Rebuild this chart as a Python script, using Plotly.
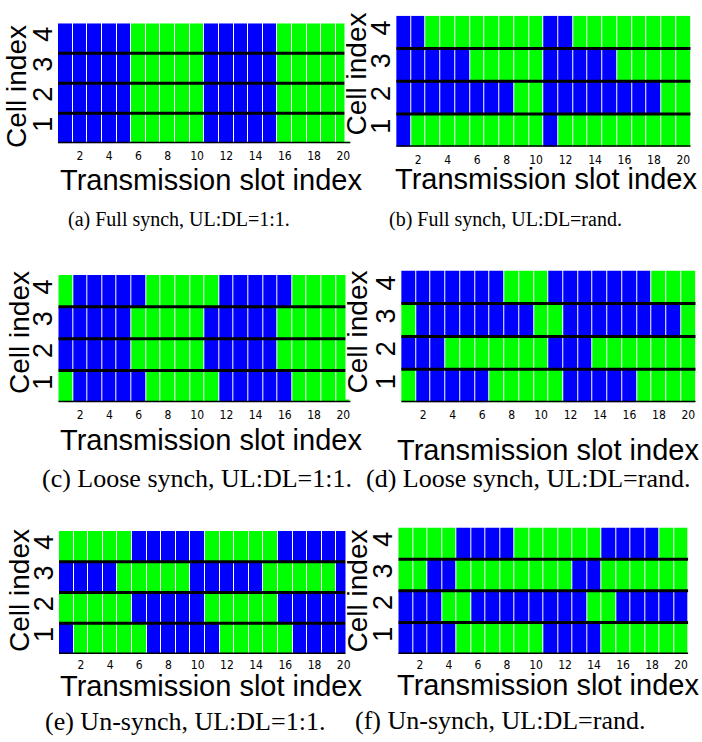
import plotly.graph_objects as go

W, H = 702, 742

# ---------------- data (B = blue, G = green); rows listed for cell 1..4 ----------------
slots = list(range(1, 21))
cells = [1, 2, 3, 4]
x_tick_vals = [2, 4, 6, 8, 10, 12, 14, 16, 18, 20]
x_tick_text = ["2", "4", "6", "8", "10", "12", "14", "16", "18", "20"]

full_11 = [
    "BBBBBGGGGGBBBBBGGGGG",
    "BBBBBGGGGGBBBBBGGGGG",
    "BBBBBGGGGGBBBBBGGGGG",
    "BBBBBGGGGGBBBBBGGGGG",
]
full_rand = [
    "BGGGGGGGGGBGGGGGGGGG",
    "BBBBBBBBGGBBBBBBBBGG",
    "BBBBBGGGGGBBBBBGGGGG",
    "BBGGGGGGGGBBGGGGGGGG",
]
loose_11 = [
    "GBBBBBGGGGGBBBBBGGGG",
    "BBBBBGGGGGBBBBBGGGGG",
    "BBBBBGGGGGBBBBBGGGGG",
    "GBBBBBGGGGGBBBBBGGGG",
]
loose_rand = [
    "GBBBBBGGGGGBBBBBGGGG",
    "BBBGGGGGGGBBBGGGGGGG",
    "GBBBBBBBBGGBBBBBBBBG",
    "BBBBBBBGGGBBBBBBBGGG",
]
unsync_11 = [
    "BGGGGGBBBBBGGGGGBBBB",
    "GGGGGBBBBBGGGGGBBBBB",
    "BBBBGGGGGBBBBBGGGGGB",
    "GGGGGBBBBBGGGGGBBBBB",
]
unsync_rand = [
    "BBBBGGGGGGBBBBGGGGGG",
    "BBBGGBBBBBBBBGGBBBBB",
    "GGBBGGGGGGGGBBGGGGGG",
    "GGGGBBBBGGGGGGBBBBGG",
]

captions = [
    "(a) Full synch, UL:DL=1:1.",
    "(b) Full synch, UL:DL=rand.",
    "(c) Loose synch, UL:DL=1:1.",
    "(d) Loose synch, UL:DL=rand.",
    "(e) Un-synch, UL:DL=1:1.",
    "(f) Un-synch, UL:DL=rand.",
]
x_title = "Transmission slot index"
y_title = "Cell index"

# ---------------- layout (pixels) ----------------
panels = [
    dict(d=full_11, x=(58, 350.6), y=(23.3, 143.3), cap=(179, 219, 20), xt=(211, 180), yt=(17, 87), bg=False),
    dict(d=full_rand, x=(396.2, 690.7), y=(15.7, 146.7), cap=(505, 219, 20), xt=(546, 179), yt=(357, 74), bg=True),
    dict(d=loose_11, x=(58.3, 350.6), y=(275, 402.3), cap=(197, 478, 26), xt=(211, 440), yt=(19, 333), bg=False),
    dict(d=loose_rand, x=(401.2, 695.7), y=(270.5, 402.3), cap=(528, 478, 26), xt=(548, 450), yt=(357, 332), bg=True),
    dict(d=unsync_11, x=(59, 351), y=(531, 654), cap=(185, 721, 26), xt=(211, 686), yt=(19, 591), bg=False),
    dict(d=unsync_rand, x=(398.3, 688.3), y=(527.5, 654), cap=(500, 720, 26), xt=(548, 685), yt=(357, 591), bg=True),
]

BLUE = "#0000FF"
GREEN = "#00FF00"
SANS = "Liberation Sans, Arial, sans-serif"
SERIF = "Liberation Serif, Times New Roman, serif"
NARROW = "Liberation Sans Narrow, DejaVu Sans Condensed, Arial Narrow, sans-serif"


def fx(px):
    return px / W


def fy(py):
    return 1 - py / H


fig = go.Figure()
shapes = []
annotations = []

for i, p in enumerate(panels):
    n = i + 1
    xa = "x" if n == 1 else f"x{n}"
    ya = "y" if n == 1 else f"y{n}"
    z = [[1 if ch == "B" else 0 for ch in row] for row in p["d"]]
    fig.add_trace(go.Heatmap(
        x=slots, y=cells, z=z, xaxis=xa, yaxis=ya,
        colorscale=[[0, GREEN], [1, BLUE]], zmin=0, zmax=1,
        showscale=False, xgap=1, hoverinfo="skip",
    ))
    xkey = "xaxis" if n == 1 else f"xaxis{n}"
    ykey = "yaxis" if n == 1 else f"yaxis{n}"
    fig.update_layout(**{
        xkey: dict(
            domain=[fx(p["x"][0]), fx(p["x"][1])], anchor=ya,
            range=[slots[0] - 0.5, slots[-1] + 0.5],
            tickvals=x_tick_vals, ticktext=x_tick_text,
            tickfont=dict(family=NARROW, size=12, color="black"),
            showgrid=False, zeroline=False, showline=False, ticks="",
            ticklabelstandoff=4 if n <= 4 else 2,
        ),
        ykey: dict(
            domain=[fy(p["y"][1]), fy(p["y"][0])], anchor=xa,
            range=[cells[0] - 0.5, cells[-1] + 0.5],
            tickvals=cells, ticktext=[str(c) for c in cells],
            tickangle=-90,
            tickfont=dict(family=SANS, size=27, color="black"),
            showgrid=False, zeroline=False, showline=False, ticks="",
            ticklabelstandoff=0,
        ),
    })
    # black row separators (cell boundaries) and bottom line
    for k in range(len(cells)):
        yb = cells[k] - 0.5
        shapes.append(dict(
            type="line", xref=xa, yref=ya,
            x0=slots[0] - 0.5, x1=slots[-1] + 0.5, y0=yb, y1=yb,
            line=dict(color="black", width=3), layer="above",
        ))
    cx, cy, cs = p["cap"]
    annotations.append(dict(
        text=captions[i], xref="paper", yref="paper", x=fx(cx), y=fy(cy),
        xanchor="center", yanchor="middle", showarrow=False,
        font=dict(family=SERIF, size=cs, color="black"),
    ))
    tx, ty = p["xt"]
    annotations.append(dict(
        text=x_title, xref="paper", yref="paper", x=fx(tx), y=fy(ty),
        xanchor="center", yanchor="middle", showarrow=False,
        font=dict(family=SANS, size=29, color="black"),
    ))
    yx, yy = p["yt"]
    ann = dict(
        text=y_title, xref="paper", yref="paper", x=fx(yx), y=fy(yy),
        xanchor="center", yanchor="middle", showarrow=False, textangle=-90,
        font=dict(family=SANS, size=28, color="black"),
    )
    if p["bg"]:
        ann.update(bgcolor="white", borderpad=0, width=134, height=23)
    annotations.append(ann)

fig.update_layout(
    width=W, height=H, margin=dict(l=0, r=0, t=0, b=0),
    paper_bgcolor="white", plot_bgcolor="white",
    showlegend=False, shapes=shapes, annotations=annotations,
)

fig.write_html("out.html")
